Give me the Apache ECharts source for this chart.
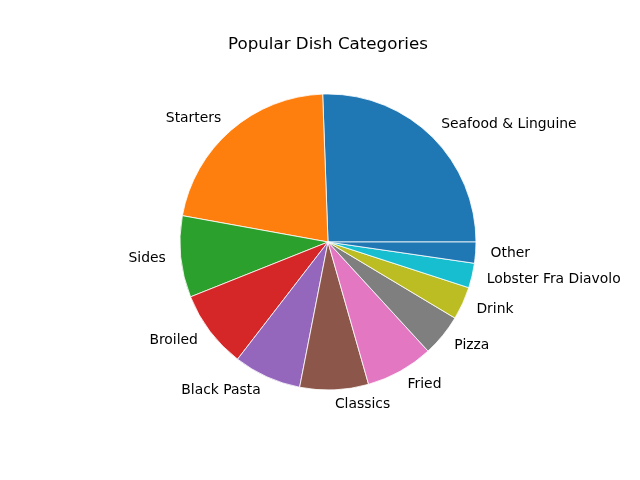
<!DOCTYPE html>
<html>
<head>
<meta charset="utf-8">
<script src="https://cdn.jsdelivr.net/npm/echarts@6/dist/echarts.min.js"></script>
<style>html,body{margin:0;padding:0;background:#fff;}#c{width:640px;height:480px;}</style>
</head>
<body>
<div id="c"></div>
<script>
const categories = ["Seafood & Linguine","Starters","Sides","Broiled","Black Pasta","Classics","Fried","Pizza","Drink","Lobster Fra Diavolo","Other"];
const values = [25.6, 21.6, 8.9, 8.5, 7.4, 7.5, 7.4, 4.6, 3.6, 2.7, 2.3];
const colors = ["#1f77b4","#ff7f0e","#2ca02c","#d62728","#9467bd","#8c564b","#e377c2","#7f7f7f","#bcbd22","#17becf","#1f77b4"];
const titleText = "Popular Dish Categories";

const chart = echarts.init(document.getElementById('c'), null, {renderer:'canvas'});
chart.setOption({
  backgroundColor: '#ffffff',
  animation: false,
  title: {
    text: titleText, left: 223, top: 31, padding: 5,
    textStyle: {fontFamily: 'DejaVu Sans', fontSize: 16.7, fontWeight: 'normal', color: '#000'}
  },
  series: [{
    type: 'pie',
    center: [328, 242],
    radius: [0, 148],
    startAngle: 0,
    clockwise: false,
    avoidLabelOverlap: false,
    minShowLabelAngle: 0,
    data: categories.map((n, i) => ({name: n, value: values[i], itemStyle: {color: colors[i]}})),
    itemStyle: {borderColor: '#ffffff', borderWidth: 0.8},
    label: {
      show: true, position: 'outside', formatter: '{b}',
      fontFamily: 'DejaVu Sans', fontSize: 13.9, color: '#000',
      distanceToLabelLine: 0
    },
    labelLine: {show: false, length: 15, length2: 0},
    emphasis: {disabled: true}
  }]
});
</script>
</body>
</html>
